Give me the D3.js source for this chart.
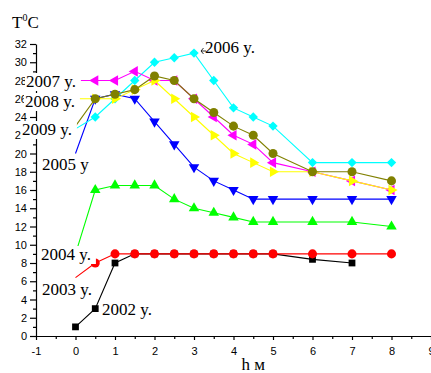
<!DOCTYPE html>
<html>
<head>
<meta charset="utf-8">
<script src="https://cdn.jsdelivr.net/npm/d3@7"></script>
<style>
  body { margin: 0; background: #fff; }
  svg { display: block; }
</style>
</head>
<body>
<div id="chart"></div>
<script>
// depth, m
const depths = [0, 0.5, 1, 1.5, 2, 2.5, 3, 3.5, 4, 4.5, 5, 6, 7, 8];

// temperature by year (same order as depths)
const t2002 = [1, 3, 8, 9, 9, 9, 9, 9, 9, 9, 9, 8.4, 8];
const t2003 = [6.4, 8, 9, 9, 9, 9, 9, 9, 9, 9, 9, 9, 9, 9];
const t2004 = [9, 16, 16.5, 16.5, 16.5, 15, 14, 13.5, 13, 12.5, 12.5, 12.5, 12.5, 12];
const t2005 = [20, 26, 26.5, 26, 23.5, 21, 18.5, 17, 16, 15, 15, 15, 15, 15];
const t2006 = [22.7, 24, 26, 28, 30, 30.5, 31, 28, 25, 24, 23, 19, 19, 19];
const t2007 = [28, 28, 28, 29, 28, 28, 26, 24, 22, 21, 19, 18, 17, 16];
const t2008 = [26, 26, 26, 27, 28, 26, 24, 22, 20, 19, 18, 18, 17, 16];
const t2009 = [23, 26, 26.5, 27, 28.5, 28, 26, 24.5, 23, 22, 20, 18, 18, 17];

const xTicks = [-1, 0, 1, 2, 3, 4, 5, 6, 7, 8, 9];
const yTicks = [0, 2, 4, 6, 8, 10, 12, 14, 16, 18, 20, 22, 24, 26, 28, 30, 32];

// the surface point (depth 0) sits under the year label for most years
const series = [
  { name: "2002 y.", values: t2002, color: "#000000", shape: "square", hideFirst: false },
  { name: "2003 y.", values: t2003, color: "#ff0000", shape: "circle", hideFirst: true },
  { name: "2004 y.", values: t2004, color: "#00ff00", shape: "up", hideFirst: true },
  { name: "2005 y",  values: t2005, color: "#0000ff", shape: "down", hideFirst: true },
  { name: "2006 y.", values: t2006, color: "#00ffff", shape: "diamond", hideFirst: true },
  { name: "2007 y.", values: t2007, color: "#ff00ff", shape: "left", hideFirst: true },
  { name: "2008 y.", values: t2008, color: "#ffff00", shape: "right", hideFirst: true },
  { name: "2009 y.", values: t2009, color: "#808000", shape: "circle", hideFirst: true }
];

const width = 431, height = 373;
const x = d3.scaleLinear().domain([-1, 9]).range([36, 431]);
const y = d3.scaleLinear().domain([0, 32]).range([336, 44]);

const svg = d3.select("#chart").append("svg")
  .attr("width", width)
  .attr("height", height);

// axes
const fmt = d => String(d);
const xAxis = d3.axisBottom(x).tickValues(xTicks).tickSize(4).tickSizeOuter(0).tickFormat(fmt);
const xMinor = d3.axisBottom(x).tickValues(d3.range(-0.5, 9, 1)).tickSize(3).tickFormat("");
const yAxis = d3.axisLeft(y).tickValues(yTicks).tickSize(6).tickSizeOuter(0).tickFormat(fmt);
const yMinor = d3.axisLeft(y).tickValues(d3.range(1, 32, 2)).tickSize(3).tickFormat("");

function styleAxis(g) {
  g.select(".domain").attr("stroke", "#000").attr("stroke-width", 1.2);
  g.selectAll(".tick line").attr("stroke", "#000").attr("stroke-width", 1.2);
  g.selectAll(".tick text")
    .attr("fill", "#000")
    .style("font-family", "'Liberation Sans', Arial, sans-serif")
    .style("font-size", "11px");
}

svg.append("g").attr("transform", "translate(0,336)").call(xMinor).call(styleAxis)
  .select(".domain").remove();
svg.append("g").attr("transform", "translate(0,336)").call(xAxis).call(styleAxis)
  .selectAll(".tick text").attr("dy", "1.05em");
svg.append("g").attr("transform", "translate(36,0)").call(yMinor).call(styleAxis)
  .select(".domain").remove();
svg.append("g").attr("transform", "translate(36,0)").call(yAxis).call(styleAxis)
  .selectAll(".tick text").attr("x", -9);

// markers
const shapes = {
  square:  { type: d3.symbolSquare, size: 46, rot: 0 },
  circle:  { type: d3.symbolCircle, size: 64, rot: 0 },
  up:      { type: d3.symbolTriangle, size: 48, rot: 0 },
  down:    { type: d3.symbolTriangle, size: 48, rot: 180 },
  left:    { type: d3.symbolTriangle, size: 48, rot: -90 },
  right:   { type: d3.symbolTriangle, size: 48, rot: 90 },
  diamond: { type: d3.symbolSquare, size: 44, rot: 45 }
};

const line = d3.line()
  .x(d => x(d[0]))
  .y(d => y(d[1]));

series.forEach(s => {
  const pts = s.values.map((v, i) => [depths[i], v]);
  const g = svg.append("g");
  g.append("path")
    .attr("d", line(pts))
    .attr("fill", "none")
    .attr("stroke", s.color)
    .attr("stroke-width", 1.1);
  const sh = shapes[s.shape];
  g.selectAll("path.m")
    .data(s.hideFirst ? pts.slice(1) : pts)
    .enter().append("path")
    .attr("class", "m")
    .attr("d", d3.symbol().type(sh.type).size(sh.size))
    .attr("transform", d => "translate(" + x(d[0]) + "," + y(d[1]) + ") rotate(" + sh.rot + ")")
    .attr("fill", s.color);
});

// year labels with white boxes
const serif = "'Liberation Serif', 'Times New Roman', serif";
const labels = [
  { text: "2007 y.", lx: 26, ly: 87 },
  { text: "2008 y.", lx: 25, ly: 107 },
  { text: "2009 y.", lx: 22, ly: 135 },
  { text: "2005 y",  lx: 42, ly: 170 },
  { text: "2004 y.", lx: 41, ly: 260 },
  { text: "2003 y.", lx: 42, ly: 295 },
  { text: "2002 y.", lx: 102, ly: 315 },
  { text: "2006 y.", lx: 205, ly: 53 }
];

labels.forEach(l => {
  const g = svg.append("g");
  const rect = g.append("rect").attr("fill", "#fff");
  const t = g.append("text")
    .attr("x", l.lx)
    .attr("y", l.ly)
    .style("font-family", serif)
    .style("font-size", "17px")
    .attr("fill", "#000")
    .text(l.text);
  const b = t.node().getBBox();
  rect.attr("x", b.x - 1).attr("y", b.y + 1)
    .attr("width", b.width + 6).attr("height", b.height - 1);
});

// small pointer from the 2006 label to its peak
svg.append("path")
  .attr("d", "M206,51 L201,51 M203.5,48 L201,51 L203.5,54")
  .attr("fill", "none")
  .attr("stroke", "#000")
  .attr("stroke-width", 0.8);

// axis titles
const yTitle = svg.append("text")
  .attr("x", 12)
  .attr("y", 28)
  .style("font-family", serif)
  .style("font-size", "17px")
  .attr("fill", "#000");
yTitle.append("tspan").text("T");
yTitle.append("tspan").attr("dy", -7).style("font-size", "10px").text("0");
yTitle.append("tspan").attr("dy", 7).text("C");

svg.append("text")
  .attr("x", x(4.5))
  .attr("y", 370)
  .attr("text-anchor", "middle")
  .style("font-family", serif)
  .style("font-size", "17px")
  .attr("fill", "#000")
  .text("h м");
</script>
</body>
</html>
